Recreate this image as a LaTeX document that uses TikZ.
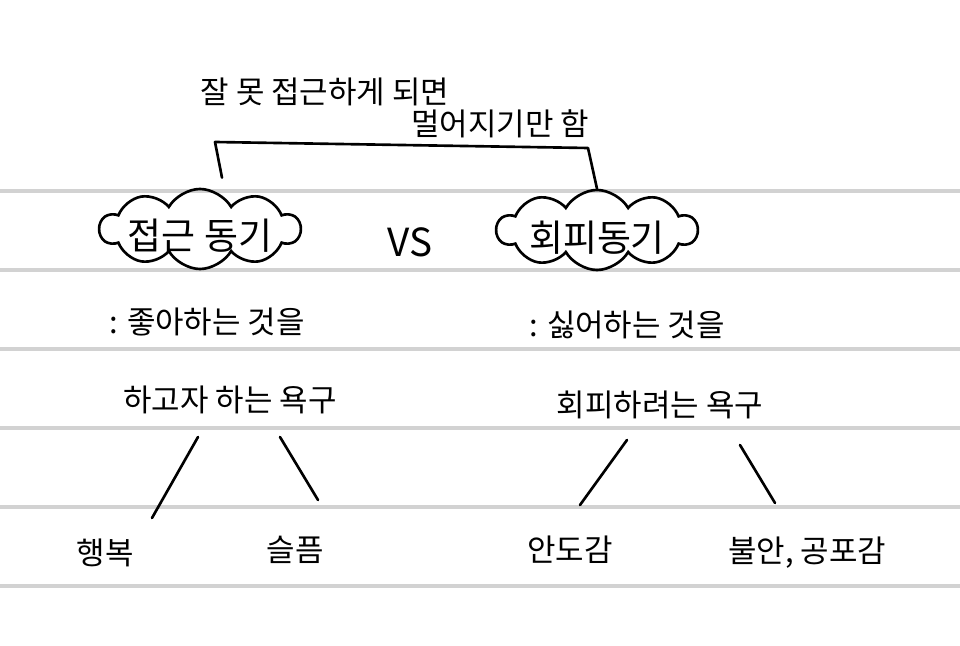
\documentclass[tikz,border=0pt]{standalone}
\usepackage{fontspec}
\newfontfamily\kor{Noto Sans CJK KR}
\usetikzlibrary{shapes.symbols}

\tikzset{
  ruled/.style={gray!35, line width=1.1pt},
  pen/.style={line width=0.75pt, line cap=round, line join=round},
  hand/.style={font=\kor\fontsize{8.8}{10}\selectfont, inner sep=1pt},
  motive/.style={cloud, cloud puffs=10, cloud puff arc=120, cloud ignores aspect,
    draw, line width=0.75pt, minimum width=2.0cm, minimum height=0.8cm, inner sep=0pt},
  title/.style={font=\kor\fontsize{10.5}{12}\selectfont, inner sep=0pt}
}

\begin{document}
\begin{tikzpicture}[x=0.01cm,y=-0.01cm]
        \useasboundingbox (0,0) rectangle (960,646);

        % linky sesitu
        \foreach \y in {191,270,349,428,507,586}
          \draw[ruled] (0,\y) -- (960,\y);

        % poznamka nahore
        \node[hand] (note) at (325,92) {잘 못 접근하게 되면};
        \node[hand] (note2) at (500,124) {멀어지기만 함};

        % obláčky
        \node[motive] (approach) at (200,229) {};
        \node[title] (approachtxt) at (200,236) {접근 동기};
        \node[motive] (avoid) at (597,230) {};
        \node[title] (avoidtxt) at (597,238) {회피동기};
        \node[hand, font=\kor\fontsize{11}{13}\selectfont] (vs) at (410,242) {VS};

        % zavorka
        \coordinate (brl) at (215,142);
        \coordinate (brr) at (588,148);
        \draw[pen] ([xshift=0.22cm,yshift=0.1cm]approach.north) -- (brl) -- (brr) -- (avoid.north);

        % vysvetleni
        \node[hand] (likeA) at (207,322) {: 좋아하는 것을};
        \node[hand] (wantA) at (230,400) {하고자 하는 욕구};
        \node[hand] (likeB) at (627,325) {: 싫어하는 것을};
        \node[hand] (wantB) at (660,405) {회피하려는 욕구};

        % emoce
        \node[hand] (happy) at (105,553) {행복};
        \node[hand] (sad) at (295,550) {슬픔};
        \node[hand] (relief) at (570,550) {안도감};
        \node[hand] (fear) at (807,553) {불안, 공포감};

        % cary
        \coordinate (a1) at (198,437); \coordinate (a2) at (152,518);
        \coordinate (b1) at (280,437); \coordinate (b2) at (318,500);
        \coordinate (c1) at (627,440); \coordinate (c2) at (580,505);
        \coordinate (d1) at (740,445); \coordinate (d2) at (775,503);
        \draw[pen] (a1) -- (a2);
        \draw[pen] (b1) -- (b2);
        \draw[pen] (c1) -- (c2);
        \draw[pen] (d1) -- (d2);
\end{tikzpicture}
\end{document}
